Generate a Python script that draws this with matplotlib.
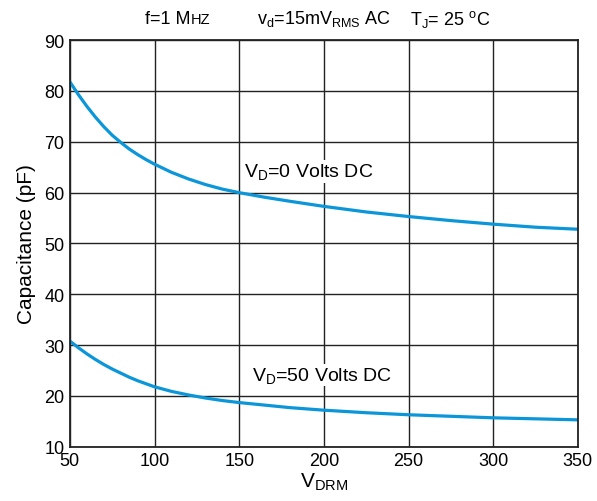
import matplotlib
matplotlib.use("Agg")
import matplotlib.pyplot as plt

plt.rcParams['font.family'] = ['Liberation Sans', 'DejaVu Sans']
plt.rcParams['mathtext.fontset'] = 'custom'
plt.rcParams['mathtext.rm'] = 'Liberation Sans'
plt.rcParams['mathtext.it'] = 'Liberation Sans'

# V_DRM (V) vs capacitance (pF)
vdrm = [50, 55, 60, 65, 70, 75, 80, 85, 90, 95, 100, 110, 120, 130, 140, 150, 165, 180,
        200, 225, 250, 275, 300, 325, 350]
cap_0v = [81.8, 79.3, 77.0, 74.9, 73.0, 71.3, 69.9, 68.6, 67.5, 66.5, 65.6, 64.0, 62.7, 61.6,
          60.7, 60.0, 59.1, 58.3, 57.3, 56.2, 55.3, 54.5, 53.8, 53.2, 52.8]
cap_50v = [30.8, 29.5, 28.3, 27.2, 26.2, 25.3, 24.5, 23.7, 23.0, 22.4, 21.8, 20.9, 20.2, 19.6,
           19.1, 18.7, 18.2, 17.7, 17.2, 16.7, 16.3, 16.0, 15.7, 15.5, 15.3]

xticks = [50, 100, 150, 200, 250, 300, 350]
yticks = [10, 20, 30, 40, 50, 60, 70, 80, 90]

blue = '#0a96d8'

fig = plt.figure(figsize=(5.97, 5.02), dpi=100)
ax = fig.add_axes([0.117, 0.108, 0.851, 0.81])

ax.plot(vdrm, cap_0v, color=blue, lw=2.3, solid_joinstyle='round')
ax.plot(vdrm, cap_50v, color=blue, lw=2.3, solid_joinstyle='round')

ax.set_xlim(50, 350)
ax.set_ylim(10, 90)
ax.set_xticks(xticks)
ax.set_yticks(yticks)
ax.grid(True, color='#222222', lw=1.0)
ax.tick_params(length=0, labelsize=13, pad=4)
for s in ax.spines.values():
    s.set_linewidth(1.3)
    s.set_color('#222222')

ax.set_ylabel('Capacitance (pF)', fontsize=15, labelpad=6)
ax.set_xlabel(r'V$_{\mathregular{DRM}}$', fontsize=15, labelpad=1)

ax.text(153, 64.2, r'V$_{\mathregular{D}}$=0 Volts DC', fontsize=14, va='center', ha='left',
        bbox=dict(facecolor='white', edgecolor='none', pad=1))
ax.text(157.5, 24.1, r'V$_{\mathregular{D}}$=50 Volts DC', fontsize=14, va='center', ha='left',
        bbox=dict(facecolor='white', edgecolor='none', pad=1))

fig.text(145 / 597, 1 - 19 / 502, 'f=1 M', fontsize=13, va='center', ha='left')
fig.text(191 / 597, 1 - 20 / 502, 'HZ', fontsize=10.5, va='center', ha='left')
fig.text(257 / 597, 1 - 19 / 502, r'v$_{\mathregular{d}}$=15mV$_{\mathregular{RMS}}$ AC', fontsize=13, va='center', ha='left')
fig.text(410 / 597, 1 - 19 / 502, r'T$_{\mathregular{J}}$= 25 $^{\mathregular{o}}$C', fontsize=13, va='center', ha='left')

fig.savefig('out.png', dpi=100)
